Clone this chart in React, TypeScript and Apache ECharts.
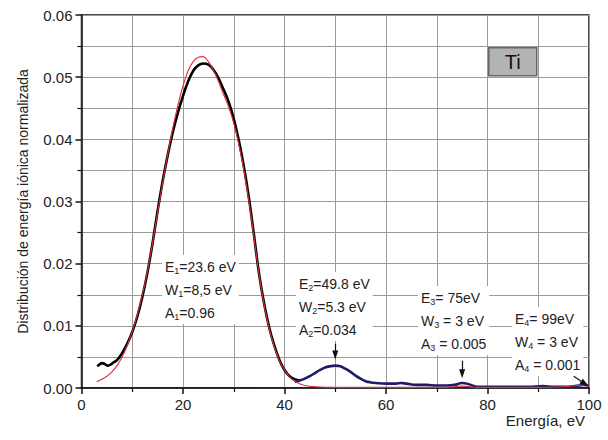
import React, { useEffect, useRef } from "react";
import * as echarts from "echarts";

// Experimental distribution (main peak)
const blackX = [3.1, 3.6, 4.0, 4.5, 5.2, 5.8, 6.3, 7, 8, 9, 10, 11, 12, 13, 14, 15, 16, 17, 18, 19, 20, 21, 22, 23, 24, 25, 26, 27, 28, 29, 30, 31, 32, 33, 34, 35, 36, 37, 38, 39, 40, 41, 42, 43];
const blackY = [0.0035, 0.0038, 0.0040, 0.0039, 0.0036, 0.0038, 0.0041, 0.0045, 0.0056, 0.0071, 0.0090, 0.0115, 0.0147, 0.0186, 0.0233, 0.0285, 0.0333, 0.0375, 0.0412, 0.0443, 0.0470, 0.0493, 0.0510, 0.0519, 0.0522, 0.0520, 0.0512, 0.0498, 0.0480, 0.0460, 0.0433, 0.0398, 0.0356, 0.0305, 0.0245, 0.0183, 0.0135, 0.0097, 0.0068, 0.0045, 0.0029, 0.0019, 0.0014, 0.0012];

// Experimental distribution (high-energy tail)
const blueX = [42, 43, 44, 45, 46, 47, 48, 49, 50, 51, 52, 53, 54, 55, 56, 57, 58, 60, 62, 63, 64, 66, 68, 70, 72, 73.5, 75, 76, 77, 78, 80, 84, 88, 91, 93, 96, 98, 99, 100];
const blueY = [0.0010, 0.0012, 0.0015, 0.0019, 0.0024, 0.0029, 0.0033, 0.0035, 0.0036, 0.0035, 0.0031, 0.0026, 0.0020, 0.0015, 0.0011, 0.0009, 0.0008, 0.0007, 0.0007, 0.0008, 0.0007, 0.0005, 0.0005, 0.0004, 0.0004, 0.0005, 0.0008, 0.0007, 0.0004, 0.0002, 0.0002, 0.0002, 0.0002, 0.0003, 0.0002, 0.0002, 0.0004, 0.0005, 0.0004];

// Fit
const redX = [3, 4, 5, 6, 7, 8, 9, 10, 11, 12, 13, 14, 15, 16, 17, 18, 19, 20, 21, 22, 23, 24, 25, 26, 27, 28, 29, 30, 31, 32, 33, 34, 35, 36, 37, 38, 39, 40, 41, 42, 43, 44, 46, 50, 60, 72, 75, 78, 90, 95, 98, 100];
const redY = [0.0010, 0.0014, 0.0019, 0.0026, 0.0036, 0.0050, 0.0068, 0.0091, 0.0118, 0.0150, 0.0188, 0.0233, 0.0282, 0.0330, 0.0376, 0.0418, 0.0455, 0.0486, 0.0510, 0.0525, 0.0532, 0.0533, 0.0525, 0.0511, 0.0493, 0.0472, 0.0452, 0.0426, 0.0392, 0.0350, 0.0300, 0.0242, 0.0182, 0.0133, 0.0095, 0.0066, 0.0044, 0.0029, 0.0018, 0.0011, 0.0007, 0.0004, 0.0002, 0.0001, 0.0001, 0.0001, 0.0003, 0.0001, 0.0001, 0.0002, 0.0004, 0.0006];

// Arrow annotations [x0, y0, x1, y1]
const arrows = [
  [50, 0.0071, 50, 0.0053],
  [75, 0.0044, 75, 0.0023],
  [97, 0.0019, 99.2, 0.0007],
];

// Peak parameter labels: [letter, index, rest]
const peakLabels = [
  [["E", "1", "=23.6 eV"], ["W", "1", "=8,5 eV"], ["A", "1", "=0.96"]],
  [["E", "2", "=49.8 eV"], ["W", "2", "=5.3 eV"], ["A", "2", "=0.034"]],
  [["E", "3", "= 75eV"], ["W", "3", " = 3 eV"], ["A", "3", " = 0.005"]],
  [["E", "4", "= 99eV"], ["W", "4", " = 3 eV"], ["A", "4", " = 0.001"]],
];

const xTicks = [0, 20, 40, 60, 80, 100];
const yTicks = [0, 0.01, 0.02, 0.03, 0.04, 0.05, 0.06];

const pairs = (xs: number[], ys: number[]) => xs.map((x, i) => [x, ys[i]]);

const FONT = '"Liberation Sans", Arial, Helvetica, sans-serif';

export default function App() {
  const ref = useRef<HTMLDivElement>(null);
  useEffect(() => {
    if (!ref.current) return;
    const chart = echarts.init(ref.current, null, { renderer: "svg" });
    const labelBlock = (lines: string[][], x: number, y: number) => ({
      type: "text",
      left: x,
      top: y,
      z: 50,
      style: {
        text: lines.map((l) => `{n|${l[0]}}{s|${l[1]}}{n|${l[2]}}`).join("\n"),
        fill: "#222",
        backgroundColor: "#fff",
        padding: [0, 3, 0, 3],
        rich: {
          n: { fontFamily: FONT, fontSize: 14, lineHeight: 23, fill: "#222", color: "#222", verticalAlign: "middle" },
          s: {
            fontFamily: FONT,
            fontSize: 9,
            lineHeight: 9,
            fill: "#222",
            color: "#222",
            verticalAlign: "bottom",
            padding: [0, 0, 3, 0],
          },
        },
      },
    });
    chart.setOption({
      animation: false,
      backgroundColor: "#fff",
      grid: {
        left: 81.5,
        right: 19,
        top: 15,
        bottom: 52,
        show: true,
        borderColor: "#111",
        borderWidth: 1.5,
        backgroundColor: "transparent",
      },
      xAxis: {
        type: "value",
        min: xTicks[0],
        max: xTicks[xTicks.length - 1],
        interval: 20,
        name: "Energía, eV",
        nameLocation: "end",
        nameGap: 0,
        nameTextStyle: {
          fontFamily: FONT,
          fontSize: 15,
          color: "#222",
          align: "right",
          verticalAlign: "top",
          padding: [25, 4, 0, 0],
        },
        axisLine: { show: true, lineStyle: { color: "#111", width: 1.5 } },
        axisTick: { show: true, inside: false, length: 6, lineStyle: { color: "#111", width: 1.5 } },
        minorTick: { show: true, splitNumber: 2, length: 4, lineStyle: { color: "#111", width: 1.2 } },
        axisLabel: { fontFamily: FONT, fontSize: 15, color: "#222", margin: 9 },
        splitLine: { show: true, lineStyle: { color: "#9a9a9a", width: 1 } },
        minorSplitLine: { show: true, lineStyle: { color: "#9a9a9a", width: 1 } },
      },
      yAxis: {
        type: "value",
        min: yTicks[0],
        max: yTicks[yTicks.length - 1],
        interval: 0.01,
        name: "Distribución de energía iónica normalizada",
        nameLocation: "middle",
        nameGap: 52,
        nameTextStyle: { fontFamily: FONT, fontSize: 14, color: "#222" },
        axisLine: { show: true, lineStyle: { color: "#111", width: 1.5 } },
        axisTick: { show: true, inside: false, length: 6, lineStyle: { color: "#111", width: 1.5 } },
        minorTick: { show: true, splitNumber: 2, length: 4, lineStyle: { color: "#111", width: 1.2 } },
        axisLabel: {
          fontFamily: FONT,
          fontSize: 15,
          color: "#222",
          margin: 9,
          formatter: (v: number) => v.toFixed(2),
        },
        splitLine: { show: true, lineStyle: { color: "#9a9a9a", width: 1 } },
        minorSplitLine: { show: true, lineStyle: { color: "#9a9a9a", width: 1 } },
      },
      series: [
        {
          name: "Experimental",
          type: "line",
          data: pairs(blackX, blackY),
          smooth: 0.4,
          showSymbol: false,
          lineStyle: { color: "#000", width: 2.6 },
          z: 3,
        },
        {
          name: "Experimental (cola)",
          type: "line",
          data: pairs(blueX, blueY),
          smooth: 0.4,
          showSymbol: false,
          lineStyle: { color: "#1b1d6b", width: 2.6 },
          z: 3,
          markLine: {
            silent: true,
            symbol: ["none", "triangle"],
            symbolSize: [6, 9],
            label: { show: false },
            lineStyle: { color: "#111", width: 1.2, type: "solid" },
            data: arrows.map((a) => [{ coord: [a[0], a[1]] }, { coord: [a[2], a[3]] }]),
          },
        },
        {
          name: "Ajuste",
          type: "line",
          data: pairs(redX, redY),
          smooth: 0.4,
          showSymbol: false,
          lineStyle: { color: "#d9303c", width: 1.1 },
          z: 4,
        },
      ],
      graphic: [
        labelBlock(peakLabels[0], 162, 255),
        labelBlock(peakLabels[1], 296, 272),
        labelBlock(peakLabels[2], 418, 286),
        labelBlock(peakLabels[3], 512, 307),
        {
          type: "group",
          left: 488,
          top: 47,
          z: 60,
          children: [
            {
              type: "rect",
              shape: { x: 0, y: 0, width: 48, height: 28 },
              style: { fill: "#b3b3b3", stroke: "#666", lineWidth: 1.5 },
            },
            {
              type: "text",
              x: 24,
              y: 14,
              style: {
                text: "Ti",
                font: `20px ${FONT}`,
                fill: "#111",
                align: "center",
                verticalAlign: "middle",
              },
            },
          ],
        },
      ],
    });
    return () => chart.dispose();
  }, []);
  return (
    <div
      ref={ref}
      style={{ position: "fixed", left: 0, top: 0, width: 608, height: 440 }}
    />
  );
}
